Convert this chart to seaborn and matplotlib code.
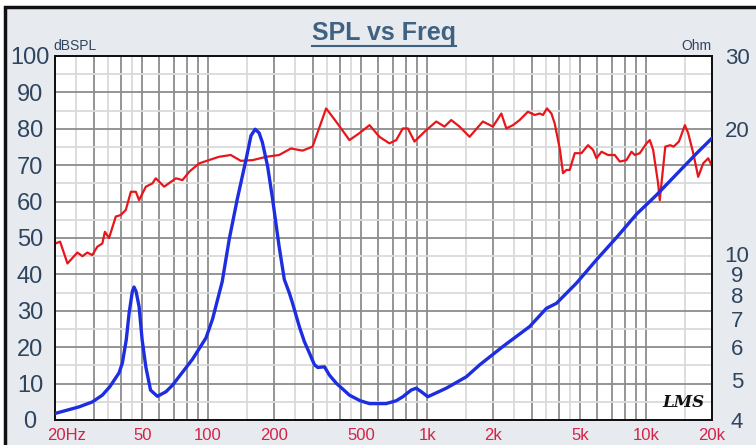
import pandas as pd
import matplotlib
matplotlib.use("Agg")
import matplotlib.pyplot as plt
import matplotlib.ticker as mticker
import matplotlib.transforms as mtransforms
from matplotlib.lines import Line2D
from matplotlib.patches import Rectangle
import seaborn as sns

# SPL response (Hz, dBSPL)
spl_freq = [20.1, 21.1, 22.8, 25.3, 26.7, 28.1, 29.6, 31.2, 32.9, 33.8, 35.3, 37.9,
            39.9, 42.1, 44.4, 46.8, 48.4, 52.0, 55.7, 57.7, 63.0, 71.3, 76.4, 82.0,
            91.1, 101, 112, 127, 141, 160, 184, 211, 239, 270, 300, 346, 384, 442,
            491, 546, 606, 673, 723, 775, 817, 876, 974, 1101, 1201, 1289, 1407,
            1563, 1798, 1998, 2183, 2301, 2467, 2647, 2888, 3100, 3267, 3383, 3528,
            3696, 3825, 4045, 4175, 4327, 4480, 4724, 5068, 5433, 5727, 5935, 6259,
            6708, 7194, 7585, 8139, 8579, 8882, 9363, 10046, 10400, 10770, 11350,
            11550, 11800, 12240, 12890, 13360, 14130, 15040, 15570, 16420, 17300,
            18230, 19220, 19920]
spl_db = [48.5, 49.0, 43.0, 46.0, 45.0, 46.0, 45.3, 47.6, 48.5, 51.7, 50.0, 55.9,
          56.3, 57.7, 62.7, 62.7, 60.4, 64.1, 65.0, 66.4, 64.1, 66.4, 65.9, 68.2,
          70.5, 71.4, 72.3, 72.8, 71.2, 71.4, 72.3, 72.8, 74.6, 74.0, 75.1, 85.6,
          82.0, 76.9, 78.8, 81.0, 77.8, 76.0, 76.9, 80.1, 80.1, 76.5, 79.2, 82.0,
          80.6, 82.4, 80.6, 77.8, 82.0, 80.6, 84.2, 80.1, 81.0, 82.4, 84.7, 83.8,
          84.2, 83.8, 85.6, 84.2, 81.5, 74.2, 67.8, 68.7, 68.7, 73.3, 73.3, 75.5,
          74.2, 71.9, 73.7, 72.8, 72.8, 71.0, 71.4, 73.7, 72.8, 73.3, 76.0, 76.9,
          74.2, 65.0, 60.4, 65.9, 75.1, 75.5, 75.1, 76.5, 81.0, 78.8, 73.3, 66.8,
          70.5, 71.9, 70.0]

# impedance (Hz, Ohm)
imp_freq = [20.1, 25.7, 29.6, 32.9, 35.6, 39.2, 40.6, 42.3, 43.6, 45.1, 45.9, 46.9,
            48.4, 50.0, 52.0, 54.6, 58.7, 64.3, 68.8, 84.9, 97.8, 104.8, 116, 125,
            136, 149, 157, 164, 171, 177, 187, 197, 211, 223, 235, 243, 261, 275,
            290, 306, 317, 340, 358, 384, 442, 495, 546, 650, 723, 775, 846, 892,
            940, 1008, 1224, 1510, 1740, 2221, 2941, 3506, 3896, 4808, 5935, 7325,
            9044, 11160, 13780, 17010, 19920]
imp_ohm = [4.15, 4.3, 4.42, 4.59, 4.81, 5.19, 5.48, 6.23, 7.23, 8.15, 8.35, 8.15,
           7.5, 6.23, 5.36, 4.72, 4.56, 4.68, 4.85, 5.6, 6.3, 6.99, 8.6, 10.9,
           13.6, 16.9, 19.3, 20.0, 19.6, 18.6, 16.3, 13.6, 10.46, 8.7, 8.08, 7.64,
           6.71, 6.18, 5.8, 5.43, 5.35, 5.37, 5.13, 4.91, 4.59, 4.45, 4.38, 4.38,
           4.45, 4.55, 4.72, 4.77, 4.68, 4.55, 4.77, 5.08, 5.43, 6.01, 6.71, 7.42,
           7.63, 8.53, 9.71, 10.98, 12.5, 13.9, 15.6, 17.5, 19.0]

x_tick_labels = {20: "20Hz", 50: "50", 100: "100", 200: "200", 500: "500",
                 1000: "1k", 2000: "2k", 5000: "5k", 10000: "10k", 20000: "20k"}
ohm_ticks = [4, 5, 6, 7, 8, 9, 10, 20, 30]

spl = pd.DataFrame({"freq": spl_freq, "db": spl_db})
imp = pd.DataFrame({"freq": imp_freq, "ohm": imp_ohm})

plt.rcParams["font.family"] = ["Liberation Sans", "DejaVu Sans"]

W, H = 756, 445
fig = plt.figure(figsize=(W / 100, H / 100), dpi=100, facecolor="white")
bg = "#e7eaee"
fig.patches.append(Rectangle((5 / W, -0.05), 1.2, 1 - 7 / H + 0.05, transform=fig.transFigure,
                             facecolor=bg, edgecolor="#111111", lw=2.5, zorder=-10))

ax = fig.add_axes([55 / W, 1 - 420 / H, (712 - 55) / W, (420 - 56) / H])
ax.set_facecolor("white")
ax2 = ax.twinx()

# grid: decades split 1..9 dark, halves light
majors = [m * 10 ** d for d in range(1, 5) for m in range(1, 10)]
majors = [v for v in majors if 20 <= v <= 20000]
minors = [m * 10 ** d for d in range(1, 5) for m in (1.5, 2.5, 3.5, 4.5)]
minors = [v for v in minors if 20 <= v <= 20000]

ax.set_xscale("log")
ax.set_xlim(20, 20000)
ax.set_ylim(0, 100)
ax.xaxis.set_major_locator(mticker.FixedLocator(majors))
ax.xaxis.set_minor_locator(mticker.FixedLocator(minors))
ax.xaxis.set_major_formatter(mticker.FuncFormatter(lambda v, p: x_tick_labels.get(int(round(v)), "")))
ax.xaxis.set_minor_formatter(mticker.NullFormatter())
ax.yaxis.set_major_locator(mticker.MultipleLocator(10))
ax.yaxis.set_minor_locator(mticker.MultipleLocator(5))
ax.grid(which="major", color="#8c8c8c", lw=1.3)
ax.grid(which="minor", color="#dadada", lw=1.3)
ax.set_axisbelow(True)

sns.lineplot(data=spl, x="freq", y="db", ax=ax, color="#e8161b", lw=1.6, zorder=3)
sns.lineplot(data=imp, x="freq", y="ohm", ax=ax2, color="#1c2ee0", lw=2.4, zorder=4)
ax2.set_zorder(ax.get_zorder() + 1)
ax2.patch.set_visible(False)

ax2.set_yscale("log")
ax2.set_ylim(4, 30)
ax2.yaxis.set_major_locator(mticker.FixedLocator(ohm_ticks))
ax2.yaxis.set_major_formatter(mticker.FixedFormatter([str(t) for t in ohm_ticks]))
ax2.yaxis.set_minor_locator(mticker.NullLocator())
ax2.grid(False)

for a in (ax, ax2):
    a.set_xlabel("")
    a.set_ylabel("")
    for s in a.spines.values():
        s.set_color("#111111")
        s.set_linewidth(1.4)

ax.tick_params(axis="x", which="both", length=0, pad=6, labelsize=12, labelcolor="#d42249")
ax.tick_params(axis="y", which="both", length=0, pad=18, labelsize=17, labelcolor="#2e4560")
ax2.tick_params(axis="y", which="both", length=0, pad=18, labelsize=16, labelcolor="#2e4560")
for lbl in ax.get_yticklabels() + ax2.get_yticklabels():
    lbl.set_horizontalalignment("center")

t0 = ax.xaxis.get_major_ticks()[0]
t0.label1.set_horizontalalignment("left")
t0.label1.set_transform(t0.label1.get_transform()
                        + mtransforms.ScaledTranslation(-8 / 100, 0, fig.dpi_scale_trans))

fig.text(53 / W, 1 - 50 / H, "dBSPL", fontsize=10, color="#2e4560", ha="left", va="baseline")
fig.text(712 / W, 1 - 50 / H, "Ohm", fontsize=10, color="#2e4560", ha="right", va="baseline")
ax.text(0.988, 0.025, "LMS", transform=ax.transAxes, ha="right", va="bottom",
        fontsize=12, fontstyle="italic", fontweight="bold", family="DejaVu Serif", color="#111111")

title = fig.text(383.5 / W, 1 - 33 / H, "SPL vs Freq", fontsize=18, fontweight="bold",
                 color="#3f6282", ha="center", va="center")
fig.canvas.draw()
bb = title.get_window_extent()
fig.add_artist(Line2D([bb.x0, bb.x1], [bb.y0 - 1, bb.y0 - 1], transform=None,
                      color="#3f6282", lw=1.5))

fig.savefig("out.png", dpi=100, facecolor=fig.get_facecolor())
